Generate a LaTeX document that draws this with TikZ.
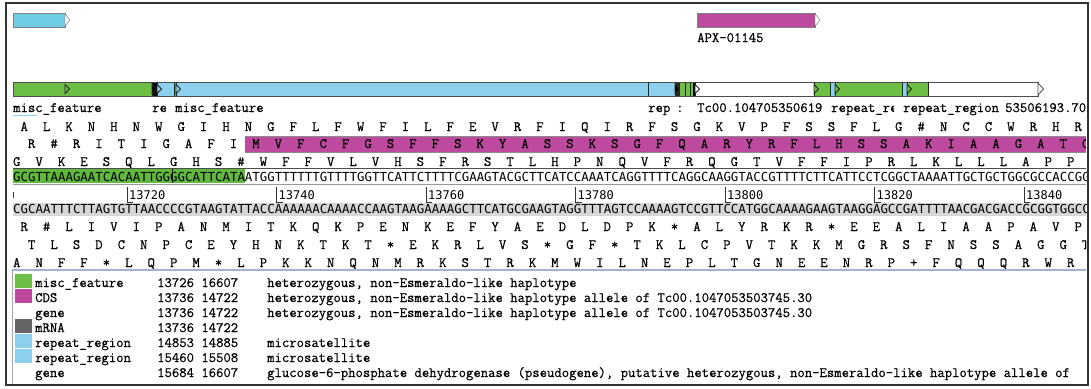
\documentclass[tikz,border=0pt]{standalone}
\usepackage{fontspec}
\newfontfamily\dnafont{DejaVu Sans Mono}
\newfontfamily\annfam[FakeBold=0.5]{Latin Modern Mono}
\usepackage{tikz}
\usetikzlibrary{positioning}

\definecolor{featgreen}{RGB}{108,190,68}
\definecolor{seqgreen}{RGB}{96,184,62}
\definecolor{featblue}{RGB}{140,208,238}
\definecolor{topblue}{RGB}{110,204,228}
\definecolor{cdsmag}{RGB}{190,74,160}
\definecolor{seqgrey}{RGB}{214,214,214}
\definecolor{mrnagrey}{RGB}{100,100,100}
\definecolor{listline}{RGB}{160,180,210}

\newcommand{\annfont}{\fontsize{14.3}{16}\selectfont\annfam}
\newcommand{\basefont}{\fontsize{12.42}{14}\selectfont\dnafont}

\begin{document}
\begin{tikzpicture}[x=1pt,y=-1pt]
    \tikzstyle{every node}=[inner sep=0pt, font=\annfont]
    \tikzstyle{lbl}=[anchor=base west]
    \tikzstyle{aa}=[anchor=base]
    \tikzstyle{seq}=[anchor=base west, font=\basefont]
    \tikzstyle{edge}=[draw=black!70, line width=0.8pt]
    \tikzstyle{marker}=[draw=black!85, line width=0.9pt]
    \useasboundingbox (0,0) rectangle (1091,388);
    \draw[line width=2.5pt, draw=black!80] (6,3) rectangle (1088,385);

    % overview row
    \filldraw[fill=topblue, draw=black!50] (13,13) rectangle (65,27);
    \filldraw[fill=white, draw=black!60] (65,14) -- (70,20) -- (65,26) -- cycle;
    \filldraw[fill=cdsmag, draw=black!50] (697,13) rectangle (815,27);
    \filldraw[fill=white, draw=black!60] (815,14) -- (820,20) -- (815,26) -- cycle;
    \node[lbl] (apx) at (697,42) {APX-01145};

    % feature line
    \foreach \a/\b/\c in {13/152/featgreen, 152/157/black, 157/174/featblue, 174/176/featgreen,
        176/675/featblue, 675/680/black!85, 680/693/featgreen, 693/695/black,
        814/830/featgreen, 830/835/featblue, 835/902/featgreen, 902/907/featblue, 907/928/featgreen}
      \fill[\c] (\a,82) rectangle (\b,96);
    \draw[edge] (13,82) rectangle (1038,96);
    \filldraw[fill=white, edge] (1038,83) -- (1043.5,89) -- (1038,95) -- cycle;
    \foreach \x in {152,157,174,176,648,675,685,690,695,814,830,835,902,907,928}
      \draw[marker] (\x,82) -- (\x,96);
    \foreach \x/\f in {65/featgreen, 152/black, 157/featblue, 176/featblue, 675/black,
        695/white, 814/featgreen, 835/featgreen, 907/featgreen}
      \filldraw[marker, fill=\f] (\x,84.5) -- ({\x+4.5},89) -- (\x,93.5) -- cycle;

    % feature names
    \node[lbl] (misca) at (13,112) {misc\_feature};
    \draw[featblue, line width=1pt] (13,115.5) -- (37,115.5);
    \node[lbl] (rea) at (152,112) {re};
    \node[lbl] (miscb) at (175,112) {misc\_feature};
    \node[lbl] (repa) at (648,112) {rep};
    \node[lbl] (colon) at (676,112) {:};
    \begin{scope}
      \clip (697,100) rectangle (825,118);
      \node[lbl] (tca) at (697,112) {Tc00.104705350619};
    \end{scope}
    \begin{scope}
      \clip (830,100) rectangle (894,118);
      \node[lbl] (repb) at (831,112) {repeat\_re};
    \end{scope}
    \node[lbl] (repc) at (903,112) {repeat\_region};
    \node[lbl] (tcb) at (1005,112) {53506193.70};

    % sequence view
    \begin{scope}
      \clip (12,118) rectangle (1086,270);
      \fill[cdsmag] (245,136) rectangle (1086,152);
      \draw[black!45] (245,136) -- (1086,136) (245,152) -- (1086,152);
      \fill[seqgreen] (13,169) rectangle (245,183);
      \draw[black!70, line width=1pt] (13,168) -- (1086,168);
      \draw[black!40] (13,184) -- (1086,184);
      \draw[line width=1pt] (172,169) -- (172,183);
      \fill[seqgrey] (13,203) rectangle (1086,216);

      \foreach \a [count=\i from 0] in {A,L,K,N,H,N,W,G,I,H,N,G,F,L,F,W,F,I,L,F,E,V,R,F,I,Q,I,R,F,S,G,K,V,P,F,S,S,F,L,G,\#,N,C,C,W,R,H,R}
        \node[aa] (fa-\i) at ({13+(3*\i+1.5)*7.475},131) {\a};
      \foreach \a [count=\i from 0] in {R,\#,R,I,T,I,G,A,F,I,M,V,F,C,F,G,S,F,F,S,K,Y,A,S,S,K,S,G,F,Q,A,R,Y,R,F,L,H,S,S,A,K,I,A,A,G,A,T,G}
        \node[aa] (fb-\i) at ({13+(3*\i+2.5)*7.475},148) {\a};
      \foreach \a [count=\i from 0] in {G,V,K,E,S,Q,L,G,H,S,\#,W,F,F,V,L,V,H,S,F,R,S,T,L,H,P,N,Q,V,F,R,Q,G,T,V,F,F,I,P,R,L,K,L,L,L,A,P,P}
        \node[aa] (fc-\i) at ({13+(3*\i+0.5)*7.475},166) {\a};

      \node[seq] (fwd) at (13,181) {GCGTTAAAGAATCACAATTGGGGCATTCATAATGGTTTTTTGTTTTGGTTCATTCTTTTCGAAGTACGCTTCATCCAAATCAGGTTTTCAGGCAAGGTACCGTTTTCTTCATTCCTCGGCTAAAATTGCTGCTGGCGCCACCGG};
      \draw[black!80] (13,192) -- (13,198);
      \foreach \n [count=\k from 0] in {13720,13740,13760,13780,13800,13820,13840} {
        \draw[black!80] ({127+\k*149.5},187) -- ++(0,15) -- ++(6,0);
        \node[lbl, font=\fontsize{12}{14}\selectfont\dnafont] (t\n) at ({129+\k*149.5},199) {\n};
      }
      \node[seq] (rev) at (13,213) {CGCAATTTCTTAGTGTTAACCCCGTAAGTATTACCAAAAAACAAAACCAAGTAAGAAAAGCTTCATGCGAAGTAGGTTTAGTCCAAAAGTCCGTTCCATGGCAAAAGAAGTAAGGAGCCGATTTTAACGACGACCGCGGTGGCC};

      \foreach \a [count=\i from 0] in {R,\#,L,I,V,I,P,A,N,M,I,T,K,Q,K,P,E,N,K,E,F,Y,A,E,D,L,D,P,K,*,A,L,Y,R,K,R,*,E,E,A,L,I,A,A,P,A,V,P}
        \node[aa] (ra-\i) at ({13+(3*\i+1.5)*7.475},231) {\a};
      \foreach \a [count=\i from 0] in {T,L,S,D,C,N,P,C,E,Y,H,N,K,T,K,T,*,E,K,R,L,V,S,*,G,F,*,T,K,L,C,P,V,T,K,K,M,G,R,S,F,N,S,S,A,G,G,T}
        \node[aa] (rb-\i) at ({13+(3*\i+2.5)*7.475},249) {\a};
      \foreach \a [count=\i from 0] in {A,N,F,F,*,L,Q,P,M,*,L,P,K,K,N,Q,N,M,R,K,S,T,R,K,M,W,I,L,N,E,P,L,T,G,N,E,E,N,R,P,+,F,Q,Q,Q,R,W,R}
        \node[aa] (rc-\i) at ({13+(3*\i+0.5)*7.475},267) {\a};
    \end{scope}

    % feature list
    \begin{scope}
      \clip (11,268) rectangle (1086,384);
      \draw[listline, line width=1.2pt] (12,270) -- (1086,270);
      \draw[black!35] (12,270) -- (12,384);
      \fill[featgreen] (15,273.5) rectangle (32,287.5);
      \fill[cdsmag] (15,288.5) rectangle (32,302.5);
      \fill[mrnagrey] (15,318.5) rectangle (32,332.5);
      \fill[featblue] (15,333.5) rectangle (32,347.5);
      \fill[featblue] (15,348.5) rectangle (32,362.5);
      \node[lbl] (na) at (35,287) {misc\_feature};
      \node[lbl] (pa) at (157,287) {13726 16607};
      \node[lbl] (da) at (267,287) {heterozygous, non-Esmeraldo-like haplotype};
      \node[lbl] (nb) at (35,302) {CDS};
      \node[lbl] (pb) at (157,302) {13736 14722};
      \node[lbl] (db) at (267,302) {heterozygous, non-Esmeraldo-like haplotype allele of Tc00.1047053503745.30};
      \node[lbl] (nc) at (35,317) {gene};
      \node[lbl] (pc) at (157,317) {13736 14722};
      \node[lbl] (dc) at (267,317) {heterozygous, non-Esmeraldo-like haplotype allele of Tc00.1047053503745.30};
      \node[lbl] (nd) at (35,332) {mRNA};
      \node[lbl] (pd) at (157,332) {13736 14722};
      \node[lbl] (ne) at (35,347) {repeat\_region};
      \node[lbl] (pe) at (157,347) {14853 14885};
      \node[lbl] (de) at (267,347) {microsatellite};
      \node[lbl] (nf) at (35,362) {repeat\_region};
      \node[lbl] (pf) at (157,362) {15460 15508};
      \node[lbl] (df) at (267,362) {microsatellite};
      \node[lbl] (ng) at (35,377) {gene};
      \node[lbl] (pg) at (157,377) {15684 16607};
      \node[lbl] (dg) at (267,377) {glucose-6-phosphate dehydrogenase (pseudogene), putative heterozygous, non-Esmeraldo-like haplotype allele of};
    \end{scope}
  \end{tikzpicture}
\end{document}
